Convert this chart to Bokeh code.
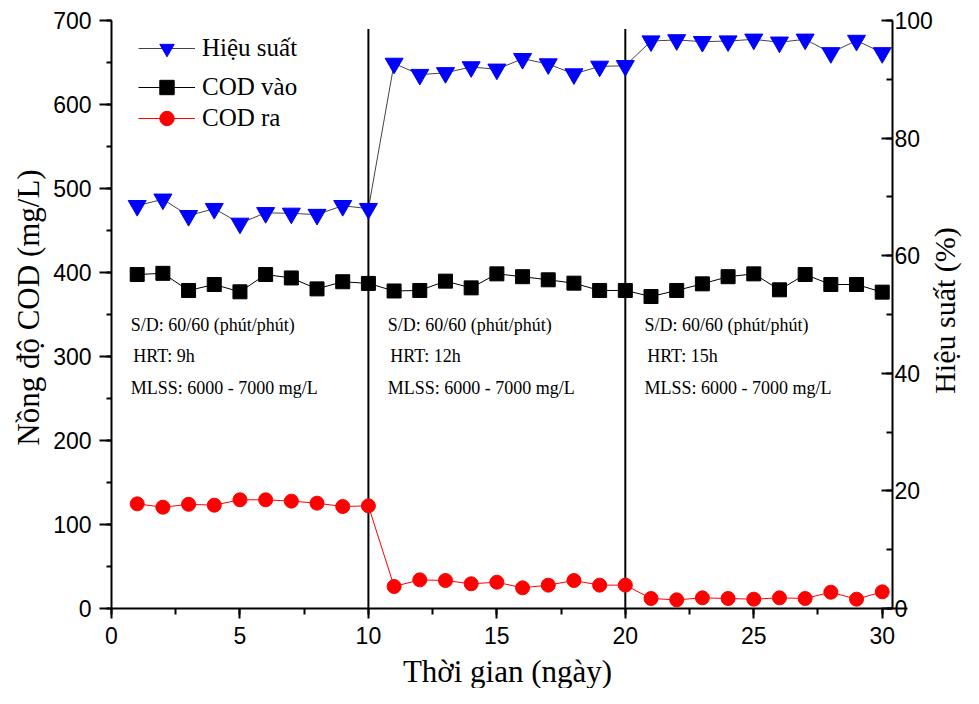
import math
from bokeh.plotting import figure
from bokeh.models import (Range1d, LinearAxis, SingleIntervalTicker, Legend, LegendItem,
                          ColumnDataSource, Label)
from bokeh.core.properties import value
from bokeh.embed import file_html
from bokeh.resources import INLINE

# ---------------- data ----------------
days = list(range(1, 31))
cod_in = [397.6, 399.0, 378.6, 385.7, 377.0, 397.6, 393.5, 380.5, 389.0, 387.0,
          378.0, 378.6, 389.7, 381.7, 398.4, 395.0, 391.3, 387.3, 378.6, 378.6,
          371.4, 378.6, 386.5, 395.0, 398.4, 379.4, 397.6, 385.7, 385.7, 376.6]
cod_out = [124.6, 120.6, 124.0, 123.0, 129.4, 129.4, 127.8, 125.4, 121.4, 122.2,
           26.2, 34.1, 33.3, 29.4, 31.3, 24.6, 27.8, 33.3, 27.8, 27.8,
           11.9, 10.3, 12.7, 11.9, 11.1, 12.7, 11.9, 19.4, 11.1, 19.8]
efficiency = [68.5, 69.6, 66.8, 68.0, 65.5, 67.3, 67.2, 67.0, 68.5, 68.0,
              92.7, 90.8, 91.1, 92.1, 91.7, 93.5, 92.6, 90.9, 92.2, 92.3,
              96.5, 96.7, 96.4, 96.5, 96.8, 96.3, 96.8, 94.5, 96.6, 94.5]

phase_bounds = [10, 20]
phase_starts = [0, 10, 20]
sd_labels = ["S/D: 60/60 (phút/phút)"] * 3
hrt_labels = ["HRT: 9h", "HRT: 12h", "HRT: 15h"]
mlss_labels = ["MLSS: 6000 - 7000 mg/L"] * 3

series_names = ["Hiệu suất", "COD vào", "COD ra"]
x_title = "Thời gian (ngày)"
y_title = "Nồng độ COD (mg/L)"
y2_title = "Hiệu suất (%)"

SERIF = "Liberation Serif"
SANS = "Liberation Sans"

# ---------------- layout geometry (pixels) ----------------
W, H = 963, 688
FL, FR, FT, FB = 111, 892, 20, 608        # plotting box edges in canvas px
X_MAX, Y_MAX, E_MAX = 30.4, 700.0, 100.0
ppx = (FR - FL) / X_MAX
ppy = (FB - FT) / Y_MAX
x_start = -FL / ppx
x_end = (W - FL) / ppx
y_end = Y_MAX + FT / ppy
y_start = -(H - FB) / ppy
k = E_MAX / Y_MAX

def xd(px):
    return (px - FL) / ppx

def yd(py):
    return (FB - py) / ppy

p = figure(width=W, height=H, output_backend="svg", toolbar_location=None,
           x_range=Range1d(x_start, x_end), y_range=Range1d(y_start, y_end),
           x_axis_location=None, y_axis_location=None,
           min_border_left=0, min_border_right=0, min_border_top=0,
           min_border_bottom=0)
p.extra_y_ranges = {"eff": Range1d(y_start * k, y_end * k)}
p.outline_line_color = None
p.xgrid.visible = False
p.ygrid.visible = False
p.background_fill_color = "white"
p.border_fill_color = "white"

# vertical phase separators
p.segment(x0=phase_bounds, x1=phase_bounds, y0=[0, 0], y1=[690, 690],
          line_color="black", line_width=2)

# annotations
ann_style = dict(text_font=value(SERIF), text_font_size="18px", text_baseline="middle",
                 text_align="left", text_color="black")
p.text(x=[s + 0.75 for s in phase_starts], y=[337] * 3, text=sd_labels, **ann_style)
p.text(x=[s + 0.85 for s in phase_starts], y=[301] * 3, text=hrt_labels, **ann_style)
p.text(x=[s + 0.75 for s in phase_starts], y=[263] * 3, text=mlss_labels, **ann_style)

src = ColumnDataSource(dict(d=days, cin=cod_in, cout=cod_out, eff=efficiency))

l_in = p.line("d", "cin", source=src, line_color="black", line_width=1)
m_in = p.scatter("d", "cin", source=src, marker="square", size=14,
                 fill_color="black", line_color="black")
l_out = p.line("d", "cout", source=src, line_color="red", line_width=1)
m_out = p.scatter("d", "cout", source=src, marker="circle", size=14,
                  fill_color="red", line_color="red")
l_eff = p.line("d", "eff", source=src, line_color="#444444", line_width=1,
               y_range_name="eff")
m_eff = p.scatter("d", "eff", source=src, marker="inverted_triangle", size=18,
                  fill_color="blue", line_color="blue", y_range_name="eff")

# axes
def style_axis(ax):
    ax.axis_line_width = 2
    ax.major_tick_line_width = 2
    ax.minor_tick_line_width = 2
    ax.axis_line_color = "black"
    ax.major_tick_line_color = "black"
    ax.minor_tick_line_color = "black"
    ax.major_label_text_font = SANS
    ax.major_label_text_font_size = "23px"
    ax.major_label_text_color = "black"

ya = LinearAxis(ticker=SingleIntervalTicker(interval=100, num_minor_ticks=2),
                bounds=(0, Y_MAX), fixed_location=0)
style_axis(ya)
ya.major_tick_out = 12
ya.major_tick_in = 0
ya.minor_tick_out = 5
ya.minor_tick_in = 0
ya.major_label_standoff = 8
p.add_layout(ya, "left")

xa = LinearAxis(ticker=SingleIntervalTicker(interval=5, num_minor_ticks=2),
                bounds=(0, 31.0), fixed_location=0)
style_axis(xa)
xa.major_tick_out = 10
xa.major_tick_in = 0
xa.minor_tick_out = 6
xa.minor_tick_in = 0
xa.major_label_standoff = 8
p.add_layout(xa, "below")

ya2 = LinearAxis(y_range_name="eff",
                 ticker=SingleIntervalTicker(interval=20, num_minor_ticks=2),
                 bounds=(0, E_MAX), fixed_location=X_MAX)
style_axis(ya2)
ya2.major_tick_out = 0
ya2.major_tick_in = 11
ya2.minor_tick_out = 0
ya2.minor_tick_in = 6
ya2.major_label_standoff = 2
p.add_layout(ya2, "right")

# axis titles
title_style = dict(text_font=SERIF, text_color="black")
p.add_layout(Label(x=xd(507), y=yd(671), text=x_title, text_align="center",
                   text_baseline="alphabetic", text_font_size="31px", **title_style))
p.add_layout(Label(x=xd(28), y=yd(307), text=y_title, text_align="center",
                   text_baseline="middle", angle=math.pi / 2, text_font_size="31px",
                   **title_style))
p.add_layout(Label(x=xd(944), y=yd(310), text=y2_title, text_align="center",
                   text_baseline="middle", angle=math.pi / 2, text_font_size="30px",
                   **title_style))

# legends: one per row to match spacing
rows = [(series_names[0], [l_eff, m_eff], 48),
        (series_names[1], [l_in, m_in], 87),
        (series_names[2], [l_out, m_out], 118)]
for name, rends, yc in rows:
    lg = Legend(items=[LegendItem(label=name, renderers=rends)],
                location=(138, H - (yc + 18)), orientation="vertical",
                border_line_color=None, background_fill_alpha=0,
                padding=0, margin=0, spacing=0,
                glyph_width=57, glyph_height=36, label_height=30,
                label_standoff=7, label_text_font=SERIF,
                label_text_font_size="25px", label_text_color="black")
    p.add_layout(lg, "center")

open("out.html", "w").write(file_html(p, INLINE))
